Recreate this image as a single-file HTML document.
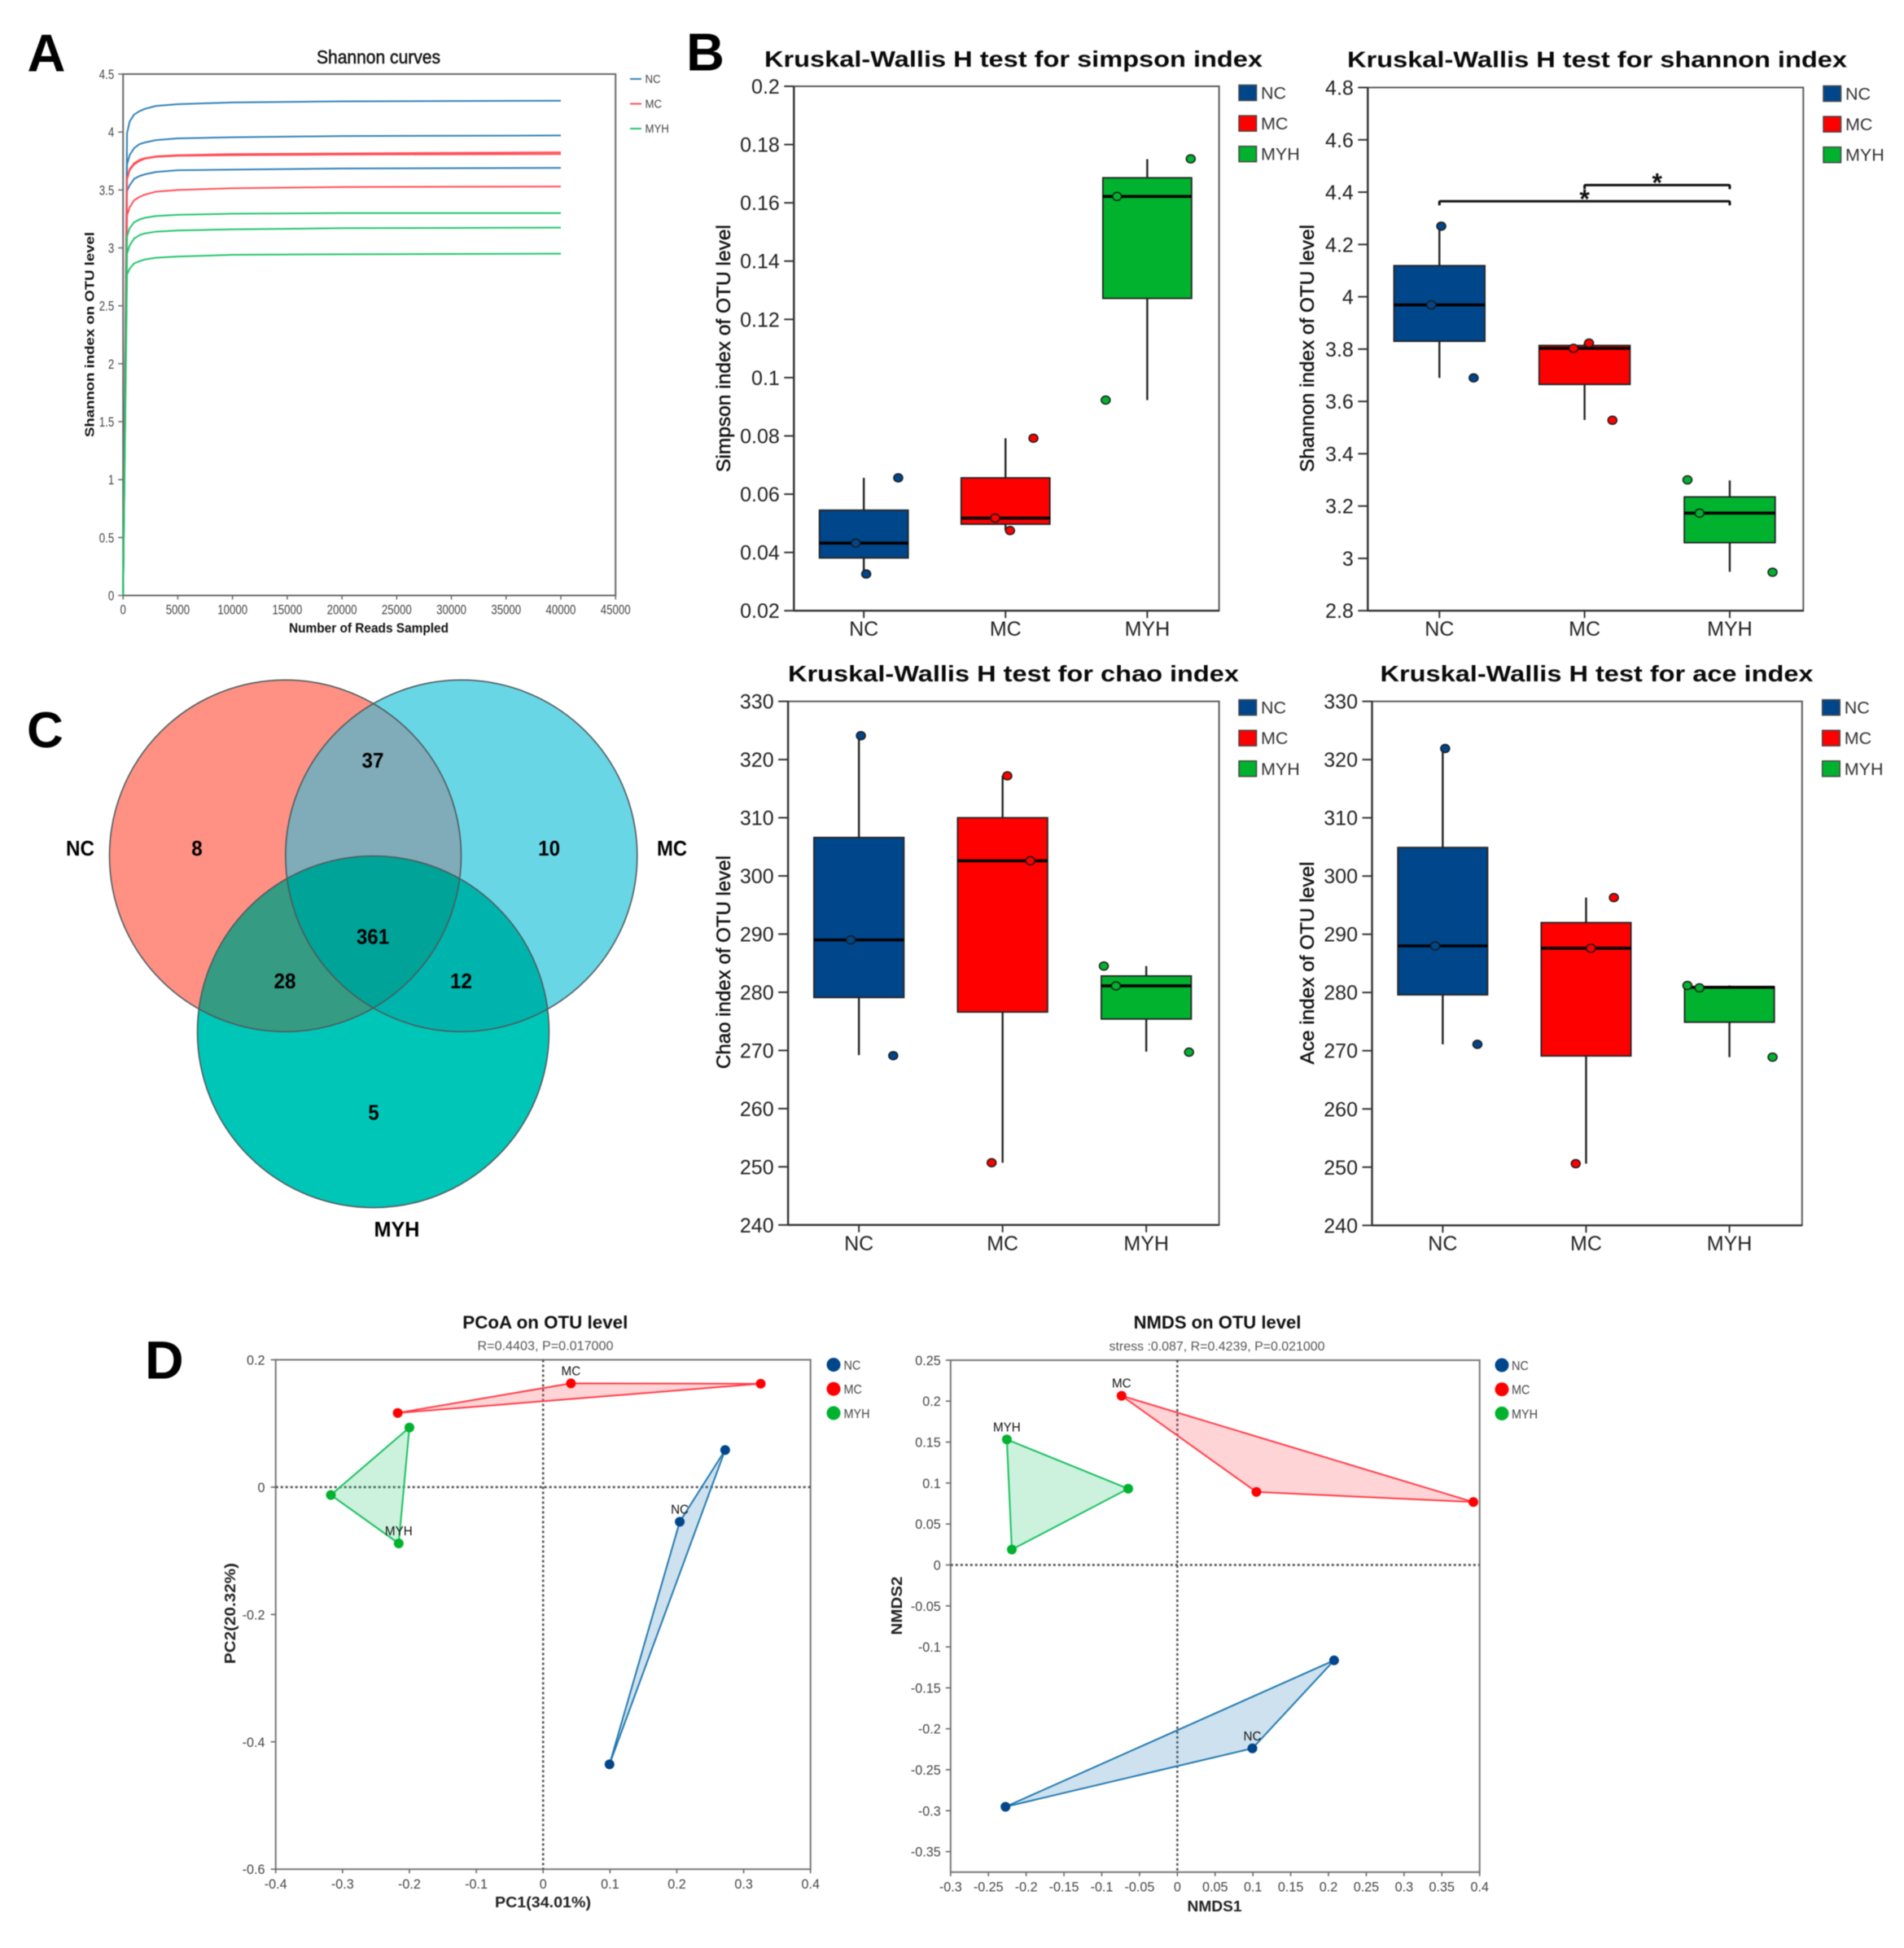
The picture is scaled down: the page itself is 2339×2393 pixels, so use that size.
<!DOCTYPE html>
<html lang="en">
<head>
<meta charset="utf-8">
<title>Microbiome diversity figure</title>
<style>
html,body{margin:0;padding:0;background:#fff;}
svg{display:block;font-family:"Liberation Sans",Arial,sans-serif;filter:blur(.5px);}
.t{font-weight:bold;fill:#0a0a0a;text-anchor:middle;}
.yt{fill:#111;stroke:#111;stroke-width:.45;text-anchor:middle;}
.pl{font-weight:bold;fill:#000;}
</style>
</head>
<body>
<svg id="fig" xmlns="http://www.w3.org/2000/svg" width="2339" height="2393" viewBox="0 0 2339 2393">
<rect width="2339" height="2393" fill="#fff"/>
<defs>
<clipPath id="clip-nc"><circle cx="350.5" cy="1051.3" r="216"/></clipPath>
<clipPath id="clip-mc"><circle cx="566.8" cy="1051.3" r="216"/></clipPath>
<clipPath id="clip-myh"><circle cx="458.5" cy="1267.5" r="216"/></clipPath>
</defs>

<text class="pl" x="33.5" y="87.5" font-size="65">A</text>
<text class="pl" x="843" y="86.5" font-size="65">B</text>
<text class="pl" x="33" y="918" font-size="62">C</text>
<text class="pl" x="178" y="1693.5" font-size="66">D</text>

<g id="panel-a">
<text x="465" y="78" font-size="23" fill="#111" stroke="#111" stroke-width=".5" text-anchor="middle" textLength="152" lengthAdjust="spacingAndGlyphs">Shannon curves</text>
<text x="453" y="777" font-size="17" font-weight="bold" fill="#111" text-anchor="middle" textLength="196" lengthAdjust="spacingAndGlyphs">Number of Reads Sampled</text>
<text transform="translate(115.5,411) rotate(-90)" font-size="15.5" font-weight="bold" fill="#111" text-anchor="middle" textLength="252" lengthAdjust="spacingAndGlyphs">Shannon index on OTU level</text>
</g>

<g id="panel-simpson">
<text class="t" x="1245" y="82" font-size="28" textLength="612" lengthAdjust="spacingAndGlyphs">Kruskal-Wallis H test for simpson index</text>
<text class="yt" transform="translate(897,428) rotate(-90)" font-size="24" textLength="304" lengthAdjust="spacingAndGlyphs">Simpson index of OTU level</text>
</g>
<g id="panel-shannon">
<text class="t" x="1962" y="82.5" font-size="28" textLength="614" lengthAdjust="spacingAndGlyphs">Kruskal-Wallis H test for shannon index</text>
<text class="yt" transform="translate(1614,428) rotate(-90)" font-size="24" textLength="304" lengthAdjust="spacingAndGlyphs">Shannon index of OTU level</text>
</g>
<g id="panel-chao">
<text class="t" x="1245" y="837" font-size="28" textLength="554" lengthAdjust="spacingAndGlyphs">Kruskal-Wallis H test for chao index</text>
<text class="yt" transform="translate(897,1182) rotate(-90)" font-size="24" textLength="262" lengthAdjust="spacingAndGlyphs">Chao index of OTU level</text>
</g>
<g id="panel-ace">
<text class="t" x="1961.5" y="837" font-size="28" textLength="532" lengthAdjust="spacingAndGlyphs">Kruskal-Wallis H test for ace index</text>
<text class="yt" transform="translate(1614,1183) rotate(-90)" font-size="24" textLength="249" lengthAdjust="spacingAndGlyphs">Ace index of OTU level</text>
</g>

<g id="panel-venn">
<circle cx="350.5" cy="1051.3" r="216" fill="#FF9184"/>
<circle cx="566.8" cy="1051.3" r="216" fill="#69D6E6"/>
<circle cx="566.8" cy="1051.3" r="216" fill="#80ABB8" clip-path="url(#clip-nc)"/>
<circle cx="458.5" cy="1267.5" r="216" fill="#00C6B8"/>
<circle cx="350.5" cy="1051.3" r="216" fill="#359B83" clip-path="url(#clip-myh)"/>
<circle cx="566.8" cy="1051.3" r="216" fill="#00B4AE" clip-path="url(#clip-myh)"/>
<g clip-path="url(#clip-nc)">
<circle cx="566.8" cy="1051.3" r="216" fill="#00A398" clip-path="url(#clip-myh)"/>
</g>
<circle cx="350.5" cy="1051.3" r="216" fill="none" stroke="#4d5a5c" stroke-width="1.6"/>
<circle cx="566.8" cy="1051.3" r="216" fill="none" stroke="#4d5a5c" stroke-width="1.6"/>
<circle cx="458.5" cy="1267.5" r="216" fill="none" stroke="#4d5a5c" stroke-width="1.6"/>
<text x="98.5" y="1051" font-size="26" font-weight="bold" text-anchor="middle" textLength="35" lengthAdjust="spacingAndGlyphs">NC</text>
<text x="825.5" y="1051" font-size="26" font-weight="bold" text-anchor="middle" textLength="37" lengthAdjust="spacingAndGlyphs">MC</text>
<text x="487.5" y="1519" font-size="26" font-weight="bold" text-anchor="middle" textLength="56" lengthAdjust="spacingAndGlyphs">MYH</text>
</g>

<g id="panel-pcoa">
<text x="669.8" y="1632" font-size="22" font-weight="bold" fill="#111" text-anchor="middle" textLength="203" lengthAdjust="spacingAndGlyphs">PCoA on OTU level</text>
<text x="670" y="1658.6" font-size="16" fill="#555" text-anchor="middle" textLength="167" lengthAdjust="spacingAndGlyphs">R=0.4403, P=0.017000</text>
<text x="667" y="2343" font-size="18" font-weight="bold" fill="#222" text-anchor="middle" textLength="118" lengthAdjust="spacingAndGlyphs">PC1(34.01%)</text>
<text transform="translate(289,1982) rotate(-90)" font-size="18" font-weight="bold" fill="#222" text-anchor="middle" textLength="124" lengthAdjust="spacingAndGlyphs">PC2(20.32%)</text>
</g>
<g id="panel-nmds">
<text x="1495.5" y="1632" font-size="22" font-weight="bold" fill="#111" text-anchor="middle" textLength="205.7" lengthAdjust="spacingAndGlyphs">NMDS on OTU level</text>
<text x="1495" y="1659" font-size="16" fill="#555" text-anchor="middle" textLength="265" lengthAdjust="spacingAndGlyphs">stress :0.087, R=0.4239, P=0.021000</text>
<text x="1492" y="2348" font-size="18" font-weight="bold" fill="#222" text-anchor="middle" textLength="67" lengthAdjust="spacingAndGlyphs">NMDS1</text>
<text transform="translate(1108,1972.5) rotate(-90)" font-size="18" font-weight="bold" fill="#222" text-anchor="middle" textLength="72" lengthAdjust="spacingAndGlyphs">NMDS2</text>
</g>
</svg>

<script>
/* ---------- shared categories ---------- */
const groups = ['NC', 'MC', 'MYH'];

/* ---------- panel A: rarefaction curves ---------- */
const curveXTicks = [0, 5000, 10000, 15000, 20000, 25000, 30000, 35000, 40000, 45000];
const curveYTicks = [0, 0.5, 1, 1.5, 2, 2.5, 3, 3.5, 4, 4.5];
const readsSampled = [1, 363, 600, 1000, 1500, 2000, 3000, 5000, 10000, 20000, 40000];
const curveNC1 = [0, 3.99, 4.09, 4.15, 4.18, 4.20, 4.225, 4.24, 4.255, 4.265, 4.27];
const curveNC2 = [0, 3.72, 3.80, 3.86, 3.895, 3.91, 3.93, 3.945, 3.955, 3.965, 3.97];
const curveNC3 = [0, 3.49, 3.54, 3.595, 3.62, 3.635, 3.655, 3.67, 3.675, 3.685, 3.69];
const curveMC1 = [0, 3.60, 3.68, 3.73, 3.76, 3.775, 3.79, 3.80, 3.81, 3.815, 3.825];
const curveMC2 = [0, 3.59, 3.67, 3.72, 3.75, 3.77, 3.785, 3.795, 3.80, 3.805, 3.81];
const curveMC3 = [0, 3.28, 3.35, 3.41, 3.44, 3.46, 3.485, 3.50, 3.515, 3.525, 3.53];
const curveMYH1 = [0, 3.10, 3.17, 3.22, 3.245, 3.26, 3.275, 3.285, 3.295, 3.30, 3.30];
const curveMYH2 = [0, 2.95, 3.02, 3.08, 3.11, 3.125, 3.14, 3.15, 3.16, 3.17, 3.175];
const curveMYH3 = [0, 2.77, 2.82, 2.865, 2.885, 2.90, 2.915, 2.925, 2.94, 2.945, 2.95];

/* ---------- panel B: box plots ---------- */
const simpsonTicks = [0.02, 0.04, 0.06, 0.08, 0.1, 0.12, 0.14, 0.16, 0.18, 0.2];
const simpsonLow = [0.0326, 0.0475, 0.0923];
const simpsonQ1 = [0.0381, 0.0497, 0.1272];
const simpsonMedian = [0.0432, 0.0518, 0.1622];
const simpsonQ3 = [0.0545, 0.0656, 0.1686];
const simpsonHigh = [0.0656, 0.0792, 0.175];
const simpsonSamples = [[0.0326, 0.0432, 0.0656], [0.0475, 0.0518, 0.0792], [0.0923, 0.1622, 0.1751]];
const simpsonJitter = [[0.01, -0.063, 0.236], [0.025, -0.08, 0.19], [-0.30, -0.22, 0.30]];

const shannonTicks = [2.8, 3, 3.2, 3.4, 3.6, 3.8, 4, 4.2, 4.4, 4.6, 4.8];
const shannonLow = [3.69, 3.529, 2.949];
const shannonQ1 = [3.83, 3.665, 3.06];
const shannonMedian = [3.969, 3.803, 3.173];
const shannonQ3 = [4.119, 3.814, 3.235];
const shannonHigh = [4.269, 3.823, 3.298];
const shannonSamples = [[4.27, 3.969, 3.69], [3.823, 3.803, 3.528], [3.30, 3.173, 2.947]];
const shannonJitter = [[0.006, -0.063, 0.229], [0.024, -0.083, 0.185], [-0.298, -0.215, 0.288]];
const shannonBracketFrom = [0, 1];
const shannonBracketTo = [2, 2];
const shannonBracketLevel = [4.365, 4.427];

const chaoTicks = [240, 250, 260, 270, 280, 290, 300, 310, 320, 330];
const chaoLow = [269.2, 250.7, 269.8];
const chaoQ1 = [279.1, 276.6, 275.4];
const chaoMedian = [289, 302.6, 281.1];
const chaoQ3 = [306.6, 310, 282.8];
const chaoHigh = [324.1, 317.2, 284.5];
const chaoSamples = [[324.1, 289, 269.1], [317.2, 302.6, 250.7], [284.5, 281.1, 269.7]];
const chaoJitter = [[0.007, -0.064, 0.232], [0.026, 0.186, -0.083], [-0.302, -0.218, 0.291]];

const aceTicks = [240, 250, 260, 270, 280, 290, 300, 310, 320, 330];
const aceLow = [271.1, 250.6, 268.9];
const aceQ1 = [279.6, 269.1, 274.9];
const aceMedian = [288, 287.6, 280.9];
const aceQ3 = [304.9, 292, 281];
const aceHigh = [321.9, 296.3, 281.2];
const aceSamples = [[321.9, 288, 271.1], [296.3, 287.6, 250.6], [281.2, 280.8, 268.9]];
const aceJitter = [[0.01, -0.06, 0.235], [0.187, 0.027, -0.079], [-0.30, -0.216, 0.294]];

/* ---------- panel C: venn counts ---------- */
const vennRegions = ['nc-only', 'mc-only', 'myh-only', 'nc-mc', 'nc-myh', 'mc-myh', 'all'];
const vennCounts = [8, 10, 5, 37, 28, 12, 361];

/* ---------- panel D: ordination ---------- */
const pcoaXTicks = [-0.4, -0.3, -0.2, -0.1, 0, 0.1, 0.2, 0.3, 0.4];
const pcoaYTicks = [-0.6, -0.4, -0.2, 0, 0.2];
const pcoaX = [[0.2723, 0.2044, 0.0993], [-0.2175, 0.0416, 0.3255], [-0.2, -0.3175, -0.216]];
const pcoaY = [[0.0583, -0.0543, -0.4353], [0.1165, 0.163, 0.1624], [0.0936, -0.0124, -0.0884]];
const pcoaLabelPoint = [1, 1, 2];

const nmdsXTicks = [-0.3, -0.25, -0.2, -0.15, -0.1, -0.05, 0, 0.05, 0.1, 0.15, 0.2, 0.25, 0.3, 0.35, 0.4];
const nmdsYTicks = [-0.35, -0.3, -0.25, -0.2, -0.15, -0.1, -0.05, 0, 0.05, 0.1, 0.15, 0.2, 0.25];
const nmdsX = [[0.2074, 0.0993, -0.2274], [-0.0738, 0.1046, 0.3917], [-0.2256, -0.065, -0.219]];
const nmdsY = [[-0.1165, -0.2239, -0.2952], [0.2066, 0.0891, 0.0768], [0.1532, 0.0931, 0.0188]];
const nmdsLabelPoint = [1, 0, 0];

/* ---------- helpers ---------- */
const NS = 'http://www.w3.org/2000/svg';
const boxColors = ['#00468B', '#FF0000', '#00B22E'];
const lineColors = ['#2f7fb5', '#ff4d55', '#1fc46a'];
const hullColors = ['#1f78b0', '#ff3b45', '#16c060'];

function mark(parent, tag, name, attrs) {
  const el = document.createElementNS(NS, tag);
  
  
  for (const k in attrs) el.setAttribute(k, attrs[k]);
  parent.appendChild(el);
  return el;
}
function label(parent, name, x, y, str, size, fill, anchor, sx) {
  const el = mark(parent, 'text', name, {
    transform: 'translate(' + x + ',' + y + ') scale(' + (sx || 1) + ',1)',
    'font-size': size,
    fill: fill,
    'text-anchor': anchor || 'middle'
  });
  el.textContent = str;
  return el;
}
function linear(d0, d1, r0, r1) {
  return function (v) { return r0 + (v - d0) / (d1 - d0) * (r1 - r0); };
}
function seg(parent, name, x1, y1, x2, y2, color, w) {
  return mark(parent, 'line', name, { x1: x1, y1: y1, x2: x2, y2: y2, stroke: color, 'stroke-width': w });
}

/* ---------- panel A ---------- */
(function () {
  const g = document.getElementById('panel-a');
  const L = 151.2, R = 756.2, T = 91, B = 731.5;
  const x = linear(0, 45000, L, R);
  const y = linear(0, 4.5, B, T);
  mark(g, 'rect', 'curves-plot-frame', { x: L, y: T, width: R - L, height: B - T, fill: 'none', stroke: '#666', 'stroke-width': 2 });
  curveXTicks.forEach(function (v) {
    seg(g, 'curves-x-tick', x(v), B, x(v), B + 5, '#666', 1.5);
    label(g, 'curves-x-tick-label', x(v), B + 23, String(v), 17, '#444', 'middle', 0.78);
  });
  curveYTicks.forEach(function (v) {
    seg(g, 'curves-y-tick', L - 6, y(v), L, y(v), '#666', 1.5);
    label(g, 'curves-y-tick-label', L - 11, y(v) + 6, String(v), 17, '#444', 'end', 0.78);
  });
  const series = [
    [curveNC1, 0], [curveNC2, 0], [curveNC3, 0],
    [curveMC1, 1], [curveMC2, 1], [curveMC3, 1],
    [curveMYH1, 2], [curveMYH2, 2], [curveMYH3, 2]
  ];
  series.forEach(function (s) {
    const pts = s[0].map(function (v, i) { return x(readsSampled[i]) + ',' + y(v); }).join(' ');
    mark(g, 'polyline', 'curve-' + groups[s[1]].toLowerCase(), { points: pts, fill: 'none', stroke: lineColors[s[1]], 'stroke-width': 2, 'stroke-linejoin': 'round' });
  });
  groups.forEach(function (name, i) {
    const ly = 97 + i * 30.5;
    seg(g, 'curves-legend-line-' + name.toLowerCase(), 774, ly, 788, ly, lineColors[i], 2);
    label(g, 'curves-legend-label-' + name.toLowerCase(), 792.5, ly + 5, name, 15, '#444', 'start', 0.88);
  });
})();

/* ---------- panel B ---------- */
function drawBoxPanel(id, prefix, frame, ticks, low, q1, median, q3, high, samples, jitter, catY, legX, legY) {
  const g = document.getElementById(id);
  const L = frame[0], R = frame[1], T = frame[2], B = frame[3];
  const y = linear(ticks[0], ticks[ticks.length - 1], B, T);
  const band = (R - L) / groups.length;
  const cx = function (c) { return L + band * (c + 0.5) - 1.2; };
  const bw = band * 0.626;
  mark(g, 'rect', prefix + '-plot-frame', { x: L, y: T, width: R - L, height: B - T, fill: 'none', stroke: '#5a5a5a', 'stroke-width': 2 });
  seg(g, prefix + '-y-axis', L, T, L, B, '#333', 2.4);
  seg(g, prefix + '-x-axis', L, B, R, B, '#333', 2.4);
  ticks.forEach(function (v) {
    seg(g, prefix + '-y-tick', L - 12, y(v), L, y(v), '#333', 2);
    label(g, prefix + '-y-tick-label', L - 17.5, y(v) + 9, String(v), 25, '#222', 'end');
  });
  groups.forEach(function (name, c) {
    const key = prefix + '-' + name.toLowerCase();
    seg(g, prefix + '-x-tick', cx(c), B, cx(c), B + 9, '#333', 2);
    label(g, prefix + '-x-tick-label', cx(c), catY, name, 25, '#222', 'middle');
    seg(g, key + '-whisker', cx(c), y(low[c]), cx(c), y(high[c]), '#222', 2.4);
    mark(g, 'rect', key + '-box', { x: cx(c) - bw / 2, y: y(q3[c]), width: bw, height: y(q1[c]) - y(q3[c]), fill: boxColors[c], stroke: '#222', 'stroke-width': 1.8 });
    seg(g, key + '-median', cx(c) - bw / 2, y(median[c]), cx(c) + bw / 2, y(median[c]), '#000', 3.6);
    samples[c].forEach(function (v, i) {
      mark(g, 'ellipse', key + '-point', { cx: cx(c) + 1.2 + jitter[c][i] * band, cy: y(v), rx: 5.5, ry: 5, fill: boxColors[c], stroke: '#1a1a1a', 'stroke-width': 1.5 });
    });
    const sy = legY + c * 37.6;
    mark(g, 'rect', prefix + '-legend-swatch-' + name.toLowerCase(), { x: legX, y: sy, width: 21.5, height: 19, fill: boxColors[c], stroke: '#444', 'stroke-width': 1.5 });
    label(g, prefix + '-legend-label-' + name.toLowerCase(), legX + 27, sy + 17, name, 21.5, '#333', 'start');
  });
  return { y: y, cx: cx, g: g };
}
drawBoxPanel('panel-simpson', 'simpson', [975.3, 1497.6, 106, 750.2], simpsonTicks, simpsonLow, simpsonQ1, simpsonMedian, simpsonQ3, simpsonHigh, simpsonSamples, simpsonJitter, 781, 1522, 104.5);
const shannonAxes = drawBoxPanel('panel-shannon', 'shannon', [1680.3, 2215.3, 107.5, 750.2], shannonTicks, shannonLow, shannonQ1, shannonMedian, shannonQ3, shannonHigh, shannonSamples, shannonJitter, 781, 2240, 105.5);
drawBoxPanel('panel-chao', 'chao', [968.1, 1497.6, 861.6, 1504.8], chaoTicks, chaoLow, chaoQ1, chaoMedian, chaoQ3, chaoHigh, chaoSamples, chaoJitter, 1536, 1522, 859.6);
drawBoxPanel('panel-ace', 'ace', [1685.5, 2213.8, 861.6, 1505.3], aceTicks, aceLow, aceQ1, aceMedian, aceQ3, aceHigh, aceSamples, aceJitter, 1536, 2238.7, 859.6);

shannonBracketLevel.forEach(function (v, i) {
  const x1 = shannonAxes.cx(shannonBracketFrom[i]);
  const x2 = shannonAxes.cx(shannonBracketTo[i]);
  const by = shannonAxes.y(v);
  mark(shannonAxes.g, 'path', 'significance-bracket', { d: 'M' + x1 + ' ' + (by + 5) + 'V' + (by + 1) + 'Q' + x1 + ' ' + by + ' ' + (x1 + 2) + ' ' + by + 'H' + (x2 - 2) + 'Q' + x2 + ' ' + by + ' ' + x2 + ' ' + (by + 1) + 'V' + (by + 5), fill: 'none', stroke: '#111', 'stroke-width': 3 });
  const star = label(shannonAxes.g, 'significance-star', (x1 + x2) / 2, by + 8, '*', 32, '#111', 'middle');
  star.setAttribute('font-weight', 'bold');
});

/* ---------- panel C ---------- */
(function () {
  const g = document.getElementById('panel-venn');
  const anchors = { 'nc-only': [242, 1051], 'mc-only': [674.6, 1051], 'myh-only': [459, 1375.5], 'nc-mc': [458, 943], 'nc-myh': [350, 1214], 'mc-myh': [566.5, 1214], 'all': [458, 1159.5] };
  vennRegions.forEach(function (region, i) {
    const el = label(g, 'venn-count-' + region, anchors[region][0], anchors[region][1], String(vennCounts[i]), 26, '#000', 'middle', 0.93);
    el.setAttribute('font-weight', 'bold');
  });
})();

/* ---------- panel D ---------- */
function drawOrdination(id, prefix, frame, xTicks, yTicks, yMin, xs, ys, labelPoint, xLabelY, tickRight, legX, legTextX, legY) {
  const g = document.getElementById(id);
  const L = frame[0], R = frame[1], T = frame[2], B = frame[3];
  const x = linear(xTicks[0], xTicks[xTicks.length - 1], L, R);
  const y = linear(yMin, yTicks[yTicks.length - 1], B, T);
  mark(g, 'rect', prefix + '-plot-frame', { x: L, y: T, width: R - L, height: B - T, fill: 'none', stroke: '#777', 'stroke-width': 2 });
  xTicks.forEach(function (v) {
    seg(g, prefix + '-x-tick', x(v), B, x(v), B + 5, '#666', 1.6);
    label(g, prefix + '-x-tick-label', x(v), xLabelY, String(v), 17, '#444', 'middle', 0.95);
  });
  yTicks.forEach(function (v) {
    seg(g, prefix + '-y-tick', L - 6, y(v), L, y(v), '#666', 1.6);
    label(g, prefix + '-y-tick-label', tickRight, y(v) + 6, String(v), 17, '#444', 'end', 0.95);
  });
  mark(g, 'line', prefix + '-zero-line-horizontal', { x1: L, y1: y(0), x2: R, y2: y(0), stroke: '#555', 'stroke-width': 2.6, 'stroke-dasharray': '3 3' });
  mark(g, 'line', prefix + '-zero-line-vertical', { x1: x(0), y1: T, x2: x(0), y2: B, stroke: '#555', 'stroke-width': 2.6, 'stroke-dasharray': '3 3' });
  groups.forEach(function (name, c) {
    const key = prefix + '-' + name.toLowerCase();
    const pts = xs[c].map(function (v, i) { return x(v) + ',' + y(ys[c][i]); }).join(' ');
    mark(g, 'polygon', key + '-hull', { points: pts, fill: hullColors[c], 'fill-opacity': 0.22, stroke: hullColors[c], 'stroke-width': 2, 'stroke-linejoin': 'round' });
  });
  groups.forEach(function (name, c) {
    const key = prefix + '-' + name.toLowerCase();
    xs[c].forEach(function (v, i) {
      mark(g, 'circle', key + '-point', { cx: x(v), cy: y(ys[c][i]), r: 6, fill: boxColors[c] });
    });
    const li = labelPoint[c];
    label(g, key + '-group-label', x(xs[c][li]), y(ys[c][li]) - 10, name, 16, '#111', 'middle', 0.95);
    const ly = legY + c * 29.7;
    mark(g, 'circle', prefix + '-legend-dot-' + name.toLowerCase(), { cx: legX, cy: ly, r: 8.5, fill: boxColors[c] });
    label(g, prefix + '-legend-label-' + name.toLowerCase(), legTextX, ly + 6, name, 16, '#444', 'start', 0.9);
  });
}
drawOrdination('panel-pcoa', 'pcoa', [338.7, 995.7, 1670.4, 2296.2], pcoaXTicks, pcoaYTicks, -0.6, pcoaX, pcoaY, pcoaLabelPoint, 2320, 325.5, 1024, 1036.5, 1676.5);
drawOrdination('panel-nmds', 'nmds', [1167.8, 1817.7, 1670.9, 2299.8], nmdsXTicks, nmdsYTicks, -0.375, nmdsX, nmdsY, nmdsLabelPoint, 2323.5, 1155.7, 1845, 1857, 1677);
</script>
</body>
</html>
